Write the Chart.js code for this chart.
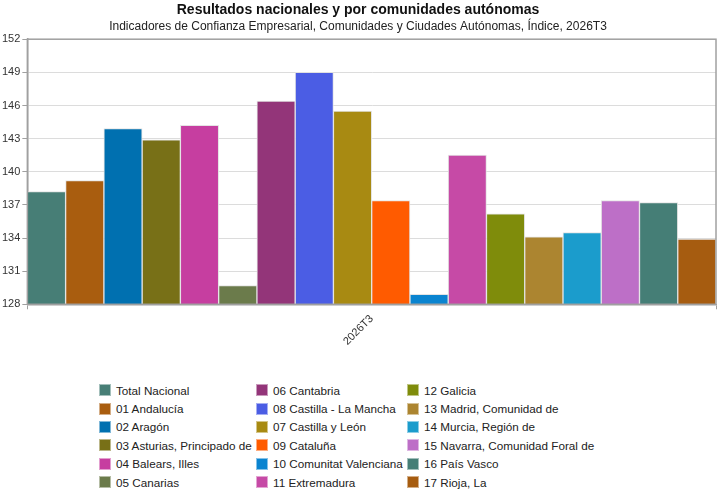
<!DOCTYPE html>
<html>
<head>
<meta charset="utf-8">
<script src="https://cdn.jsdelivr.net/npm/chart.js@4/dist/chart.umd.min.js"></script>
<style>
  body { margin: 0; background: #fff; font-family: "Liberation Sans", Arial, sans-serif; }
  #wrap { position: relative; width: 724px; height: 501px; }
  #box { position: absolute; left: 0; top: 0; width: 724px; height: 351px; }
  #legend {
    position: absolute; left: 99px; top: 381px;
    display: grid; grid-auto-flow: column;
    grid-template-rows: repeat(6, 18.4px);
    grid-template-columns: 157px 151px auto;
    font-size: 11.7px; color: #222;
  }
  #legend div { display: flex; align-items: center; white-space: nowrap; }
  #legend span.sw { flex: 0 0 12px; width: 12px; height: 12px; margin-right: 5px; box-sizing: border-box; border: 1px solid rgba(255,255,255,0.5); }
</style>
</head>
<body>
<div id="wrap">
  <div id="box"><canvas id="chart"></canvas></div>
  <div id="legend"></div>
</div>
<script>
const periods = ['2026T3']

const regions = ['Total Nacional', '01 Andalucía', '02 Aragón', '03 Asturias, Principado de', '04 Balears, Illes',
  '05 Canarias', '06 Cantabria', '08 Castilla - La Mancha', '07 Castilla y León', '09 Cataluña',
  '10 Comunitat Valenciana', '11 Extremadura', '12 Galicia', '13 Madrid, Comunidad de', '14 Murcia, Región de',
  '15 Navarra, Comunidad Foral de', '16 País Vasco', '17 Rioja, La']

const values = [138.2, 139.2, 143.9, 142.9, 144.2, 129.7, 146.4, 149.0, 145.5, 137.4,
  128.9, 141.5, 136.2, 134.1, 134.5, 137.4, 137.2, 133.9]

const colors = ['#477e76', '#a95d0f', '#0070b0', '#787017', '#c63ea0', '#6b7b4b', '#933579', '#4b5de4', '#a88a12', '#ff5b00',
  '#0a84d0', '#c64aa6', '#7f8c0b', '#ac8530', '#1b9ccc', '#bd6fc7', '#457e76', '#a65c10']

const yTicks = [128, 131, 134, 137, 140, 143, 146, 149, 152]

// frame around the plot (top/right lines like the original)
const frame = {
  id: 'frame',
  afterDraw(chart) {
    const a = chart.chartArea, ctx = chart.ctx
    ctx.save()
    ctx.strokeStyle = '#a0a0a0'
    ctx.lineWidth = 1.5
    ctx.strokeRect(a.left, a.top, a.right - a.left, a.bottom - a.top)
    ctx.restore()
  }
}

const datasets = regions.map((name, i) => ({
  label: name,
  data: [values[i]],
  backgroundColor: colors[i],
  borderColor: 'rgba(225,225,225,0.9)',
  borderWidth: 1,
  barPercentage: 1,
  categoryPercentage: 1
}))

Chart.defaults.font.family = '"Liberation Sans", Arial, sans-serif'
Chart.defaults.color = '#333'

new Chart('chart', {
  type: 'bar',
  data: { labels: periods, datasets: datasets },
  options: {
    responsive: true,
    maintainAspectRatio: false,
    animation: false,
    layout: { padding: { left: 0, right: 8, top: 2, bottom: 0 } },
    plugins: {
      legend: { display: false },
      tooltip: { enabled: false },
      title: {
        display: true,
        text: 'Resultados nacionales y por comunidades autónomas',
        color: '#111',
        font: { size: 14, weight: 'bold' },
        padding: { top: 0, bottom: 1 }
      },
      subtitle: {
        display: true,
        text: 'Indicadores de Confianza Empresarial, Comunidades y Ciudades Autónomas, Índice, 2026T3',
        color: '#222',
        font: { size: 12 },
        padding: { top: 0, bottom: 5 }
      }
    },
    scales: {
      x: {
        grid: { display: true, drawOnChartArea: false, tickLength: 5, color: '#a0a0a0' },
        border: { color: '#a0a0a0', width: 1.5 },
        ticks: { minRotation: 45, maxRotation: 45, font: { size: 11 }, color: '#333' }
      },
      y: {
        min: 128,
        max: 152,
        afterBuildTicks: axis => { axis.ticks = yTicks.map(v => ({ value: v })) },
        grid: { color: '#dcdcdc', tickLength: 5, tickColor: '#a0a0a0' },
        border: { color: '#a0a0a0', width: 1.5 },
        ticks: { font: { size: 11 }, color: '#333', padding: 2 }
      }
    }
  },
  plugins: [frame]
})

const legend = document.getElementById('legend')
regions.forEach((name, i) => {
  const item = document.createElement('div')
  item.innerHTML = '<span class="sw" style="background:' + colors[i] + '"></span>' + name
  legend.appendChild(item)
})
</script>
</body>
</html>
